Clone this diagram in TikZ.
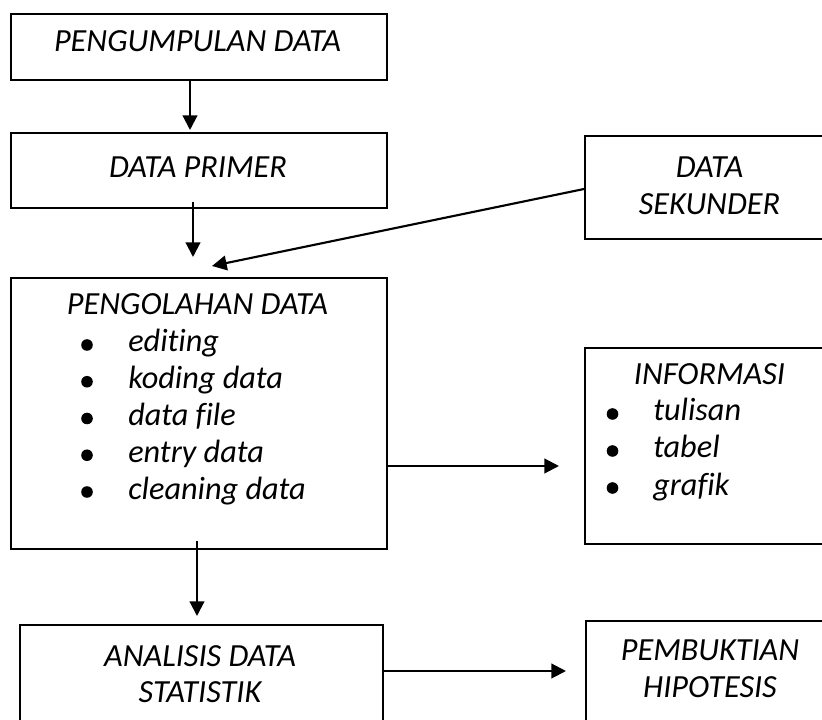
\documentclass[tikz,border=0pt]{standalone}
\usepackage{fontspec}
\setmainfont{Carlito}[Ligatures=NoCommon]
\usetikzlibrary{arrows.meta}

\tikzset{
  box/.style={draw, line width=1.5pt, inner sep=0pt, anchor=north west},
  txt/.style={font=\itshape\fontsize{24.2}{27.2}\selectfont, inner sep=0pt, align=center},
  arr/.style={line width=1.6pt, -{Triangle[length=11pt,width=11pt]}}
}

\begin{document}
\begin{tikzpicture}[x=0.75pt,y=0.75pt,yscale=-1,xscale=1]
\useasboundingbox (0,0) rectangle (822,720);
\clip (0,0) rectangle (822,720);

% boxes
\node[box, minimum width=282pt, minimum height=49.5pt] (pengumpulan) at (10,13) {};
\node[box, minimum width=282pt, minimum height=56.25pt] (primer) at (10,132) {};
\node[box, minimum width=186pt, minimum height=77.25pt] (sekunder) at (584,135) {};
\node[box, minimum width=282pt, minimum height=203.25pt] (pengolahan) at (10,277) {};
\node[box, minimum width=186pt, minimum height=147pt] (informasi) at (584,347) {};
\node[box, minimum width=272.25pt, minimum height=102pt] (analisis) at (19,624) {};
\node[box, minimum width=186pt, minimum height=105pt] (pembuktian) at (585,620) {};

% texts
\node[txt, anchor=base] (t-pengumpulan) at (197.5,52) {PENGUMPULAN DATA};
\node[txt, anchor=base] (t-primer) at (198,178) {DATA PRIMER};
\node[txt, anchor=north] (t-sekunder) at (709.5,157) {DATA\\SEKUNDER};
\node[txt, anchor=base] (t-pengolahan) at (197.5,315) {PENGOLAHAN DATA};
\node[txt, anchor=base] (t-informasi) at (709.5,385) {INFORMASI};
\node[txt, anchor=north] (t-analisis) at (200,645) {ANALISIS DATA\\STATISTIK};
\node[txt, anchor=north] (t-pembuktian) at (710,640) {PEMBUKTIAN\\HIPOTESIS};

% bullet lists
\foreach \w [count=\i from 0] in {editing, koding data, data file, entry data, cleaning data} {
  \fill (87,352+36.75*\i-7) circle [radius=5.8];
  \node[txt, anchor=base west] (olah-\i) at (128,352+36.75*\i) {\w};
}
\foreach \w [count=\i from 0] in {tulisan, tabel, grafik} {
  \fill (612.5,421+37*\i-7) circle [radius=5.8];
  \node[txt, anchor=base west] (info-\i) at (653,421+37*\i) {\w};
}

% connectors
\coordinate (sek-in) at (212,266);
\draw[arr, shorten >=1.5pt] (pengumpulan.south -| 190,0) -- (primer.north -| 190,0);
\draw[arr, shorten <=-5pt, shorten >=15pt] (primer.south -| 193,0) -- (pengolahan.north -| 193,0);
\draw[arr] (sekunder.west |- 0,189) -- (sek-in);
\draw[arr, shorten >=18.75pt] (pengolahan.east |- 0,466) -- (informasi.west |- 0,466);
\draw[arr, shorten <=-6.75pt, shorten >=6pt] (pengolahan.south -| 197,0) -- (analisis.north -| 197,0);
\draw[arr, shorten >=14.25pt] (analisis.east |- 0,671) -- (pembuktian.west |- 0,671);
\end{tikzpicture}
\end{document}
